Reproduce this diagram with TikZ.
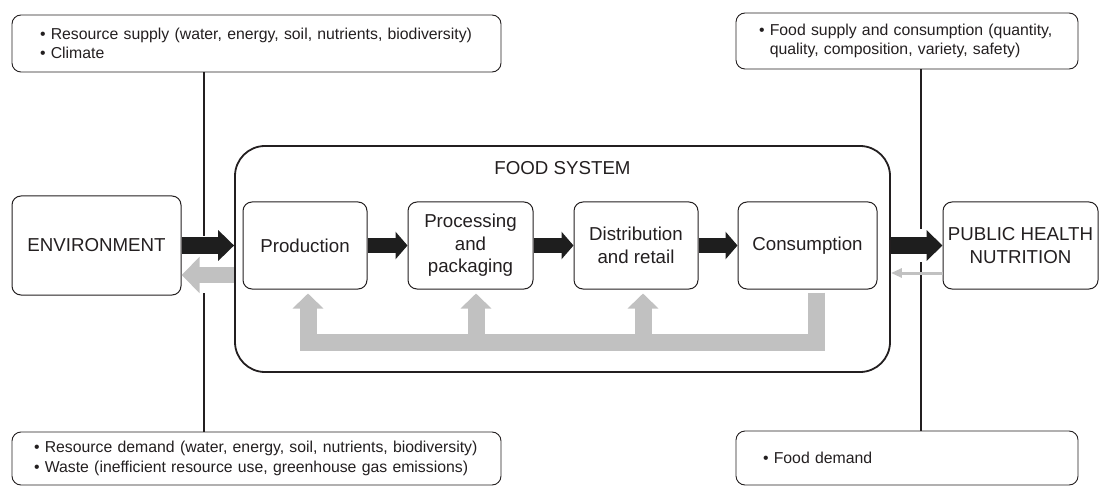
\documentclass[tikz,border=0pt]{standalone}
\usepackage{fontspec}
\setmainfont{Liberation Sans}
\usetikzlibrary{arrows.meta}
\definecolor{inkdark}{HTML}{231F20}
\definecolor{flowblack}{HTML}{1E1E1E}
\definecolor{flowgray}{HTML}{C1C1C1}

\begin{document}
\begin{tikzpicture}[x=1pt, y=-1pt,
    stagebox/.style={draw=inkdark, line width=1pt, rounded corners=9pt, align=center, text=inkdark, inner sep=0pt, font=\fontsize{18.7}{22.5}\selectfont},
    notebox/.style={draw=inkdark, line width=0.9pt, rounded corners=9pt, align=left, text=inkdark, inner sep=0pt, font=\fontsize{15.8}{19.5}\selectfont},
    flow/.style={draw=flowblack, line width=14pt, -{Triangle[length=12pt,width=27pt]}},
    bigflow/.style={draw=flowblack, line width=16pt, -{Triangle[length=16pt,width=30pt]}},
    backflow/.style={draw=flowgray, line width=16pt, -{Triangle[length=18pt,width=35pt]}},
    thinback/.style={draw=flowgray, line width=3pt, -{Triangle[length=11pt,width=9pt]}},
    fback/.style={draw=flowgray, line width=17pt, line join=miter, -{Triangle[length=15pt,width=30pt]}},
    link/.style={draw=inkdark, line width=1.3pt}]
        \useasboundingbox (0,0) rectangle (1099,486);

        % Outside boxes
        \node[notebox, minimum width=489pt, minimum height=57pt, text width=433pt] (envsup) at (256.5,43.5) {\textbullet\ Resource supply (water, energy, soil, nutrients, biodiversity)\\\textbullet\ Climate};
        \node[notebox, minimum width=489pt, minimum height=53pt, text width=445pt] (envdem) at (256.5,458.5) {\textbullet\ Resource demand (water, energy, soil, nutrients, biodiversity)\\\textbullet\ Waste (inefficient resource use, greenhouse gas emissions)};
        \node[notebox, minimum width=342pt, minimum height=56pt, text width=296pt] (fsup) at (907,41) {\textbullet\ Food supply and consumption (quantity,\\\hphantom{\textbullet\ }quality, composition, variety, safety)};
        \node[notebox, minimum width=342pt, minimum height=54pt, text width=288pt] (fdem) at (907,458) {\textbullet\ Food demand};

        % Food system and stages
        \node[draw=inkdark, line width=1.8pt, rounded corners=30pt, minimum width=655pt, minimum height=226pt] (foodsys) at (562.5,259) {};
        \node[text=inkdark, font=\fontsize{18.7}{22.5}\selectfont] (fstitle) at ([yshift=-23pt]foodsys.north) {FOOD SYSTEM};

        \node[stagebox, minimum width=169pt, minimum height=99pt] (env) at (96.5,245.5) {ENVIRONMENT};
        \node[stagebox, minimum width=124pt, minimum height=87pt] (prod) at (305,245.5) {Production};
        \node[stagebox, minimum width=125pt, minimum height=87pt] (proc) at (470.5,245.5) {Processing\\and\\packaging};
        \node[stagebox, minimum width=124pt, minimum height=87pt] (dist) at (636,245.5) {Distribution\\and retail};
        \node[stagebox, minimum width=139pt, minimum height=87pt] (cons) at (807.5,245.5) {Consumption};
        \node[stagebox, minimum width=155pt, minimum height=87pt] (ph) at (1020.5,245.5) {PUBLIC HEALTH\\NUTRITION};

        % Links to the outside boxes
        \coordinate (gapLtop) at (204,236);
        \coordinate (gapLbot) at (204,293);
        \coordinate (gapRtop) at (921,229);
        \coordinate (gapRbot) at (921,262);
        \draw[link] (envsup.south -| gapLtop) -- (gapLtop);
        \draw[link] (gapLbot) -- (envdem.north -| gapLbot);
        \draw[link] (fsup.south -| gapRtop) -- (gapRtop);
        \draw[link] (gapRbot) -- (fdem.north -| gapRbot);

        % Flows
        \draw[bigflow] (env.east) -- (env.east -| foodsys.west);
        \draw[backflow] ([yshift=-29.5pt]env.east -| foodsys.west) -- ([yshift=-29.5pt]env.east);
        \draw[flow] (prod) -- (proc);
        \draw[flow] (proc) -- (dist);
        \draw[flow] (dist) -- (cons);
        \draw[bigflow] (cons.east -| foodsys.east) -- (ph.west);
        \draw[thinback] ([yshift=-27.5pt]ph.west) -- ([yshift=-27.5pt]ph.west -| foodsys.east);

        % Feedback loop
        \coordinate (fbbar) at ([yshift=-53pt]cons.south);
        \draw[fback, shorten <=3pt, shorten >=4pt] ([xshift=8.5pt]cons.south) -- ++(0,53) -| ([xshift=3pt]prod.south);
        \draw[fback, shorten >=4pt] ([xshift=5.5pt]proc.south |- fbbar) -- ([xshift=5.5pt]proc.south);
        \draw[fback, shorten >=4pt] ([xshift=7pt]dist.south |- fbbar) -- ([xshift=7pt]dist.south);
    \end{tikzpicture}
\end{document}
